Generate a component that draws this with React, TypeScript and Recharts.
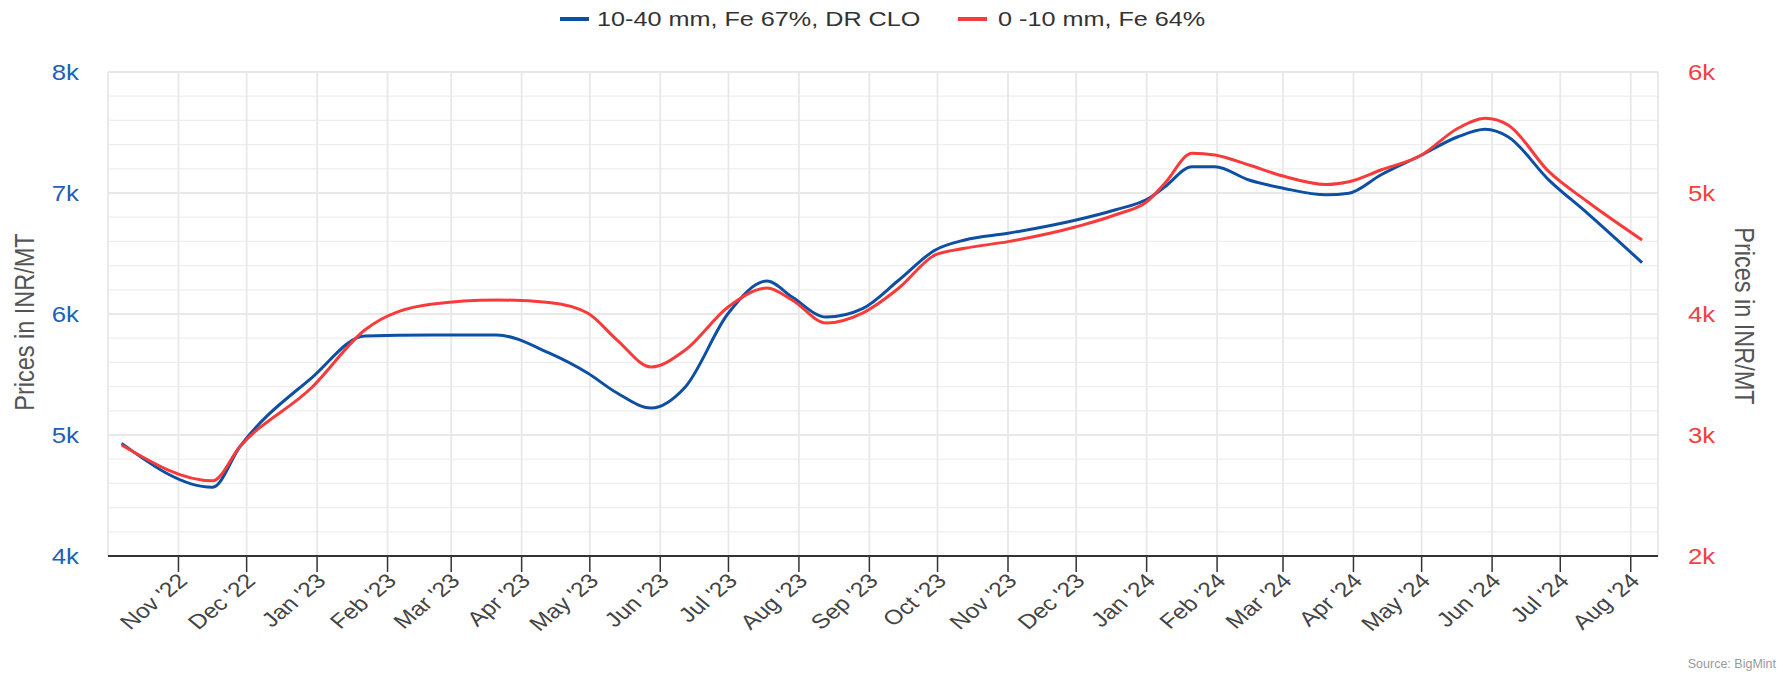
import { CartesianGrid, Line, LineChart, XAxis, YAxis } from 'recharts'

// price samples (INR/MT)
const dates = [
  '2022-10-07', '2022-11-16', '2022-11-28', '2022-12-30', '2023-01-22', '2023-02-20', '2023-03-21',
  '2023-04-13', '2023-04-30', '2023-05-13', '2023-05-28', '2023-06-12', '2023-07-01', '2023-07-18',
  '2023-07-29', '2023-08-13', '2023-08-29', '2023-09-14', '2023-09-30', '2023-10-13', '2023-11-01',
  '2023-12-01', '2023-12-18', '2024-01-02', '2024-01-09', '2024-01-21', '2024-01-31', '2024-02-15',
  '2024-03-01', '2024-03-20', '2024-03-30', '2024-04-13', '2024-05-01', '2024-05-17', '2024-05-29',
  '2024-06-08', '2024-06-26', '2024-07-13', '2024-08-06',
]
const lumps1040 = [
  4931, 4568, 4903, 5479, 5818, 5826, 5826,
  5678, 5512, 5347, 5223, 5397, 6008, 6273,
  6140, 5975, 6045, 6281, 6529, 6612, 6667,
  6777, 6860, 6956, 7052, 7217, 7217, 7107,
  7040, 6985, 6998, 7149, 7314, 7465, 7526,
  7465, 7107, 6832, 6424,
]
const fines010 = [
  2917, 2622, 2903, 3399, 3868, 4080, 4116,
  4095, 4008, 3785, 3562, 3702, 4060, 4215,
  4116, 3926, 4008, 4215, 4488, 4543, 4598,
  4721, 4818, 4942, 5080, 5328, 5314, 5231,
  5140, 5070, 5093, 5190, 5314, 5535, 5617,
  5562, 5176, 4928, 4612,
]
const monthTicks = [
  '2022-11-01', '2022-12-01', '2023-01-01', '2023-02-01', '2023-03-01', '2023-04-01', '2023-05-01',
  '2023-06-01', '2023-07-01', '2023-08-01', '2023-09-01', '2023-10-01', '2023-11-01', '2023-12-01',
  '2024-01-01', '2024-02-01', '2024-03-01', '2024-04-01', '2024-05-01', '2024-06-01', '2024-07-01',
  '2024-08-01',
]
const xRange = ['2022-10-01', '2024-08-13']
const leftTicks = [4000, 5000, 6000, 7000, 8000]
const rightTicks = [2000, 3000, 4000, 5000, 6000]
const monthNames = ['Jan', 'Feb', 'Mar', 'Apr', 'May', 'Jun', 'Jul', 'Aug', 'Sep', 'Oct', 'Nov', 'Dec']

const data = dates.map((d, i) => ({ t: Date.parse(d), a: lumps1040[i], b: fines010[i] }))
const minorGrid: number[] = []
for (let v = 4000; v <= 8000; v += 200) minorGrid.push(v)

const W = 1783
const H = 678
const SX = 1.2 // the source image is stretched horizontally
const FONT = '"Liberation Sans", Arial, sans-serif'
const BLUE = '#0d4fa3'
const RED = '#f73b3b'
const BLUE_TXT = '#2160b8'
const RED_TXT = '#f24141'

const fmtMonth = (t: number) => {
  const d = new Date(t)
  return `${monthNames[d.getUTCMonth()]} '${String(d.getUTCFullYear()).slice(2)}`
}
const fmtK = (v: number) => `${v / 1000}k`

function XTick({ x, y, payload }: any) {
  return (
    <g transform={`translate(${x + 4},${y + 2}) scale(${SX},1)`}>
      <text textAnchor="end" transform="rotate(-45)" dy="0.35em" fill="#444" fontSize={20.5} fontFamily={FONT}>
        {fmtMonth(payload.value)}
      </text>
    </g>
  )
}

function YTick({ x, y, payload, side }: any) {
  return (
    <g transform={`translate(${x},${y}) scale(${SX},1)`}>
      <text
        textAnchor={side === 'left' ? 'end' : 'start'}
        dy="0.35em"
        fill={side === 'left' ? BLUE_TXT : RED_TXT}
        fontSize={21.5}
        fontFamily={FONT}
      >
        {fmtK(payload.value)}
      </text>
    </g>
  )
}

function Overlay() {
  const txt = { fontFamily: FONT, fill: '#333' }
  return (
    <svg width={W} height={H} style={{ position: 'absolute', left: 0, top: 0, pointerEvents: 'none' }}>
      <line x1={560} x2={589} y1={19} y2={19} stroke={BLUE} strokeWidth={4} />
      <g transform={`translate(597,19) scale(${SX},1)`}>
        <text dy="0.35em" fontSize={21} {...txt}>10-40 mm, Fe 67%, DR CLO</text>
      </g>
      <line x1={958} x2={987} y1={19} y2={19} stroke={RED} strokeWidth={4} />
      <g transform={`translate(998,19) scale(${SX},1)`}>
        <text dy="0.35em" fontSize={21} {...txt}>0 -10 mm, Fe 64%</text>
      </g>
      <g transform={`translate(24,322) scale(${SX},1) rotate(-90)`}>
        <text textAnchor="middle" dy="0.35em" fontSize={23.5} fontFamily={FONT} fill="#555">Prices in INR/MT</text>
      </g>
      <g transform={`translate(1745,316) scale(${SX},1) rotate(90)`}>
        <text textAnchor="middle" dy="0.35em" fontSize={23.5} fontFamily={FONT} fill="#555">Prices in INR/MT</text>
      </g>
      <text x={1776} y={668} textAnchor="end" fontSize={12.5} fontFamily={FONT} fill="#999">Source: BigMint</text>
    </svg>
  )
}

export default function App() {
  return (
    <div style={{ position: 'absolute', left: 0, top: 0, width: W, height: H, background: '#fff', fontFamily: FONT }}>
      <LineChart width={W} height={H} data={data} margin={{ top: 72, right: 0, bottom: 0, left: 0 }}>
        <CartesianGrid yAxisId="left" horizontalValues={minorGrid} stroke="#eeeeee" strokeWidth={1.3} vertical={false} />
        <CartesianGrid yAxisId="left" horizontalValues={leftTicks} stroke="#e4e4e4" strokeWidth={1.3} vertical={false} />
        <CartesianGrid yAxisId="left" horizontal={false} stroke="#e8e8e8" strokeWidth={1.8} />
        <XAxis
          dataKey="t"
          type="number"
          domain={xRange.map((d) => Date.parse(d))}
          ticks={monthTicks.map((d) => Date.parse(d))}
          allowDataOverflow
          height={122}
          tickSize={16}
          tickMargin={3}
          tickLine={{ stroke: '#333', strokeWidth: 1.5 }}
          axisLine={{ stroke: '#333', strokeWidth: 2 }}
          tick={<XTick />}
          interval={0}
        />
        <YAxis
          yAxisId="left"
          domain={[4000, 8000]}
          ticks={leftTicks}
          width={108}
          axisLine={false}
          tickLine={false}
          tickSize={0}
          tickMargin={29}
          tick={<YTick side="left" />}
          interval={0}
        />
        <YAxis
          yAxisId="right"
          orientation="right"
          domain={[2000, 6000]}
          ticks={rightTicks}
          width={125}
          axisLine={false}
          tickLine={false}
          tickSize={0}
          tickMargin={30}
          tick={<YTick side="right" />}
          interval={0}
        />
        <Line yAxisId="left" dataKey="a" type="monotone" stroke={BLUE} strokeWidth={3} dot={false} isAnimationActive={false} />
        <Line yAxisId="right" dataKey="b" type="monotone" stroke={RED} strokeWidth={3} dot={false} isAnimationActive={false} />
      </LineChart>
      <Overlay />
    </div>
  )
}
